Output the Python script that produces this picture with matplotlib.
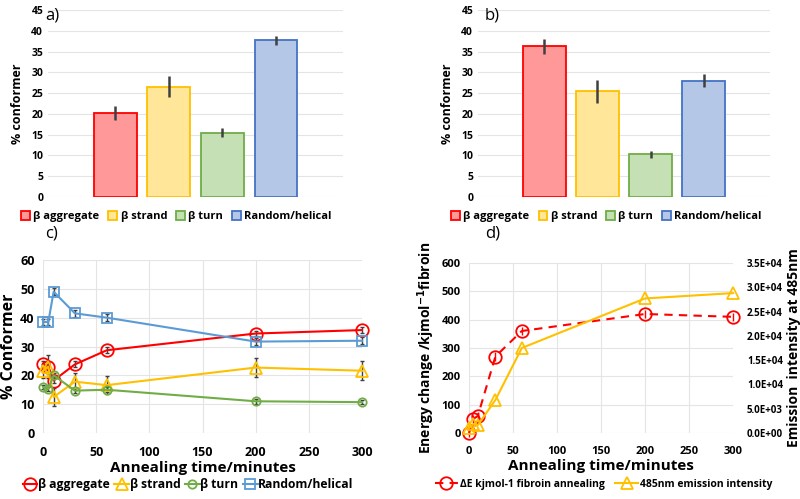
import numpy as np
import matplotlib.pyplot as plt
from matplotlib.ticker import FuncFormatter

plt.rcParams['font.family'] = ['Open Sans', 'DejaVu Sans']
plt.rcParams['font.weight'] = 'bold'
plt.rcParams['axes.labelweight'] = 'bold'

# bar charts a) and b)
conformers = ['\u03b2 aggregate', '\u03b2 strand', '\u03b2 turn', 'Random/helical']
a_vals = [20.2, 26.5, 15.5, 37.7]
a_err = [1.6, 2.5, 1.0, 1.1]
b_vals = [36.3, 25.4, 10.3, 28.0]
b_err = [1.8, 2.8, 0.8, 1.5]

# time series c) and d)
times = [0, 5, 10, 30, 60, 200, 300]
c_aggregate = [24.0, 23.0, 18.2, 23.8, 28.7, 34.5, 35.7]
c_aggregate_err = [1.0, 1.0, 1.0, 1.0, 1.0, 1.0, 1.0]
c_strand = [21.5, 23.0, 12.5, 17.8, 16.6, 22.7, 21.6]
c_strand_err = [2.5, 4.0, 3.0, 3.0, 3.0, 3.2, 3.2]
c_turn = [16.0, 15.2, 20.0, 14.7, 15.0, 11.0, 10.7]
c_turn_err = [0.8, 0.8, 0.8, 0.8, 0.8, 0.8, 0.8]
c_random = [38.5, 38.5, 49.0, 41.5, 40.0, 31.7, 32.0]
c_random_err = [1.2, 1.2, 1.2, 1.2, 1.2, 1.2, 1.2]

d_energy = [0, 50, 60, 270, 360, 420, 410]
d_energy_err = [15, 15, 15, 15, 15, 15, 15]
d_emission = [1.0e3, 1.8e3, 1.6e3, 6.8e3, 1.75e4, 2.77e4, 2.88e4]

fills = ['#FF9999', '#FFE699', '#C5E0B4', '#B4C7E7']
edges = ['#FF0000', '#FFC000', '#70AD47', '#4472C4']
grid_c = '#E4E4E4'

fig = plt.figure(figsize=(8, 4.99), dpi=100)

def px(l, t, r, b):
    W, H = 800, 499
    return [l / W, (H - b) / H, (r - l) / W, (b - t) / H]

def style(ax, size):
    for s in ax.spines.values():
        s.set_visible(False)
    ax.tick_params(length=0, labelsize=size)
    for t in ax.get_xticklabels() + ax.get_yticklabels():
        t.set_fontweight('bold')
    ax.set_axisbelow(True)

def bars(ax, vals, err):
    x = np.arange(len(vals))
    for i in range(len(vals)):
        ax.bar(x[i], vals[i], 0.8, color=fills[i], edgecolor=edges[i],
               linewidth=1.3, label=conformers[i])
    ax.errorbar(x, vals, yerr=err, fmt='none', ecolor='#404040',
                elinewidth=1.8, capsize=0)
    ax.set_xlim(-1.25, 4.25)
    ax.set_ylim(0, 45)
    ax.set_yticks(range(0, 46, 5))
    ax.set_xticks([])
    ax.yaxis.grid(True, color=grid_c, linewidth=0.8)
    style(ax, 7.5)
    ax.set_ylabel('% conformer', fontsize=9, labelpad=5)

leg_kw = dict(loc='center', ncol=4, frameon=False, fontsize=8,
              handlelength=0.8, handleheight=0.8, handletextpad=0.3,
              columnspacing=0.8)

ax_a = fig.add_axes(px(48, 10, 343, 197))
bars(ax_a, a_vals, a_err)
ax_a.legend(bbox_to_anchor=(0.435, -0.105), **leg_kw)
fig.text(45 / 800, 1 - 15 / 499, 'a)', fontsize=12, weight='normal', va='center')

ax_b = fig.add_axes(px(478, 10, 770, 197))
bars(ax_b, b_vals, b_err)
ax_b.legend(bbox_to_anchor=(0.44, -0.105), **leg_kw)
fig.text(485 / 800, 1 - 15 / 499, 'b)', fontsize=12, weight='normal', va='center')

# c)
ax_c = fig.add_axes(px(43, 260, 362, 433))
series = [(c_aggregate, c_aggregate_err, '#FF0000', 'o', 9),
          (c_strand, c_strand_err, '#FFC000', '^', 8),
          (c_turn, c_turn_err, '#70AD47', 'o', 6),
          (c_random, c_random_err, '#5B9BD5', 's', 7)]
for i, (vals, err, col, mk, ms) in enumerate(series):
    ax_c.errorbar(times, vals, yerr=err, fmt='none', ecolor='#404040',
                  elinewidth=1.0, capsize=1.2, zorder=3, clip_on=False)
    ax_c.plot(times, vals, color=col, marker=mk, markersize=ms,
              markerfacecolor='none', markeredgewidth=1.3, linewidth=1.5,
              label=conformers[i], zorder=4, clip_on=False)
ax_c.set_xlim(0, 300)
ax_c.set_ylim(0, 60)
ax_c.set_xticks(range(0, 301, 50))
ax_c.set_yticks(range(0, 61, 10))
ax_c.grid(True, color=grid_c, linewidth=0.8)
style(ax_c, 9)
ax_c.tick_params(axis='x', pad=9)
ax_c.tick_params(axis='y', pad=6)
ax_c.set_xlabel('Annealing time/minutes', fontsize=11, labelpad=2)
ax_c.set_ylabel('% Conformer', fontsize=11.5, labelpad=2)
ax_c.legend(loc='center', bbox_to_anchor=(0.455, -0.3), ncol=4, frameon=False,
            fontsize=8.7, handlelength=1.2, handletextpad=0.05, columnspacing=0.4)
fig.text(45 / 800, 1 - 234 / 499, 'c)', fontsize=12, weight='normal', va='center')

# d)
ax_d = fig.add_axes(px(469, 263, 733, 433))
ax_d.errorbar(times, d_energy, yerr=d_energy_err, fmt='none', ecolor='#FF0000',
              elinewidth=1.0, capsize=0, zorder=3, clip_on=False)
l1, = ax_d.plot(times, d_energy, color='#FF0000', linestyle=(0, (4, 3)),
                marker='o', markersize=9, markerfacecolor='none',
                markeredgewidth=1.3, linewidth=1.5, clip_on=False,
                label='\u0394E kjmol-1 fibroin annealing', zorder=4)
ax_d.set_xlim(0, 300)
ax_d.set_ylim(0, 600)
ax_d.set_xticks(range(0, 301, 50))
ax_d.set_yticks(range(0, 601, 100))
ax_d.grid(True, color=grid_c, linewidth=0.8)
style(ax_d, 8)
ax_d.tick_params(axis='x', pad=9)
ax_d.tick_params(axis='y', pad=6)
ax_d.set_xlabel('Annealing time/minutes', fontsize=11, labelpad=2)
ax_d.set_ylabel('Energy change /kjmol$^{\\mathbf{-1}}$fibroin', fontsize=10, labelpad=3)

ax_d2 = ax_d.twinx()
l2, = ax_d2.plot(times, d_emission, color='#FFC000', marker='^', markersize=8,
                 markerfacecolor='none', markeredgewidth=1.3, linewidth=1.5,
                 label='485nm emission intensity', clip_on=False)
ax_d2.set_ylim(0, 3.5e4)
ax_d2.set_yticks(np.arange(0, 3.51e4, 5e3))
ax_d2.yaxis.set_major_formatter(FuncFormatter(lambda v, p: '{:.1E}'.format(v)))
style(ax_d2, 7)
for t in ax_d2.get_yticklabels():
    t.set_fontweight('bold')
ax_d2.tick_params(pad=10)
ax_d2.set_ylabel('Emission  intensity at 485nm', fontsize=10, labelpad=3)
ax_d.legend(handles=[l1, l2], loc='center', bbox_to_anchor=(0.51, -0.3),
            ncol=2, frameon=False, fontsize=7.5, handlelength=2.2,
            handletextpad=0.2, columnspacing=1.0)
fig.text(485 / 800, 1 - 234 / 499, 'd)', fontsize=12, weight='normal', va='center')

fig.savefig('out.png', dpi=100)
